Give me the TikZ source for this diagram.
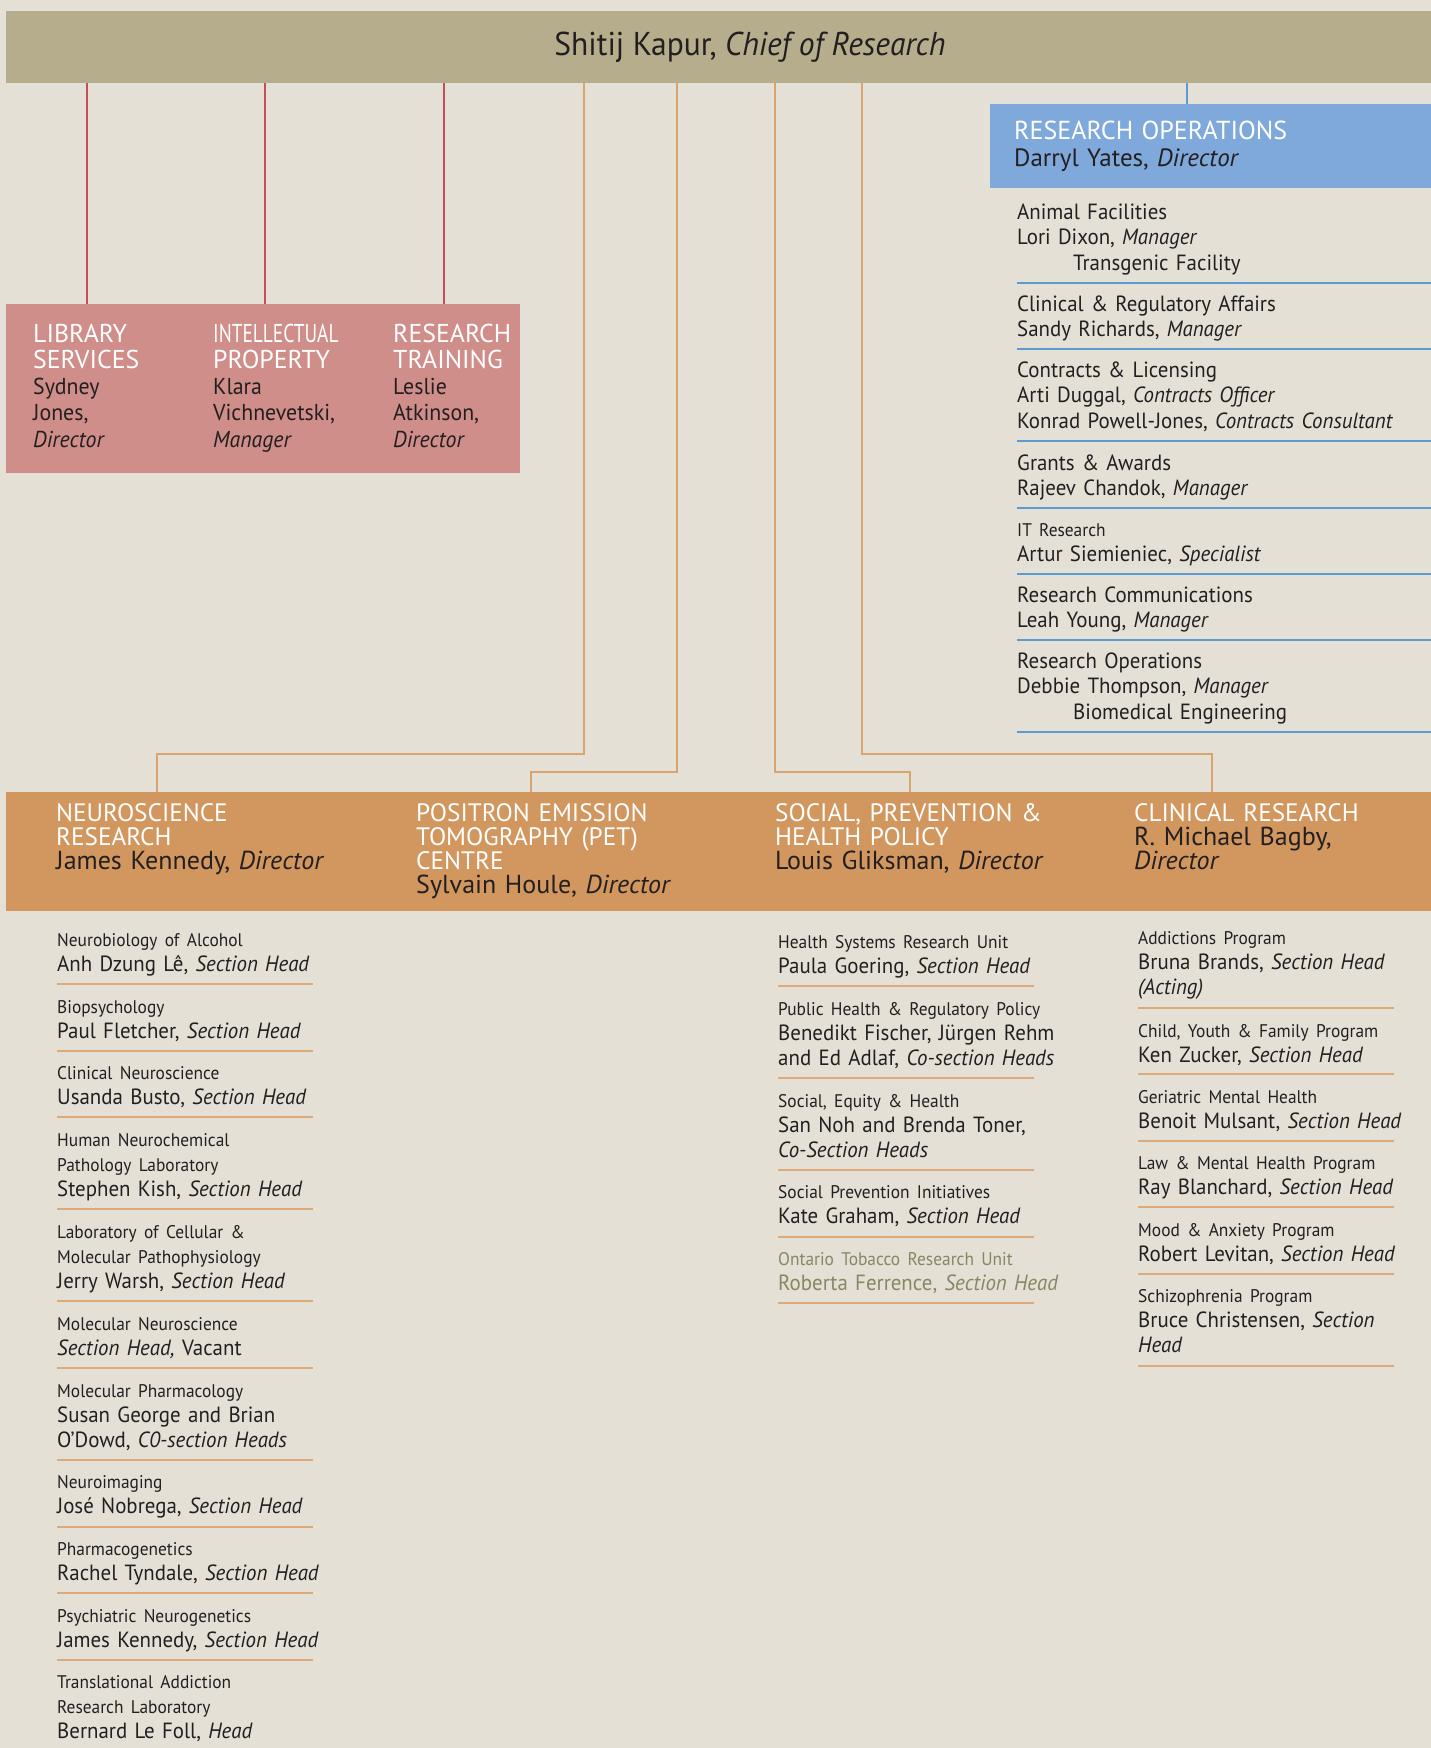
\documentclass[tikz,border=0pt]{standalone}
\usepackage{fontspec}
\setmainfont{PT Sans}[FakeStretch=0.95]
\newfontfamily\plainf{PT Sans}
\newfontfamily\titlefont{PT Sans}[FakeStretch=0.955]
\newfontfamily\narrowfont{PT Sans}[FakeStretch=0.75]
\definecolor{bg}{HTML}{E4E0D6}
\definecolor{tan}{HTML}{B6AD8D}
\definecolor{rose}{HTML}{CF8E8A}
\definecolor{roseln}{HTML}{C34D5C}
\definecolor{sky}{HTML}{80A9DB}
\definecolor{skyln}{HTML}{5B9BD0}
\definecolor{ochre}{HTML}{D1975F}
\definecolor{ochreln}{HTML}{D9A46E}
\definecolor{sepor}{HTML}{DDAA78}
\definecolor{olive}{HTML}{8A8563}
\definecolor{ink}{HTML}{231F20}
\newcommand\hd[1]{{\fontsize{18.3}{25}\selectfont #1}}
\newcommand\caps[1]{{\color{white}\fontsize{25.2}{24}\selectfont #1}}
\newcommand\rcaps[1]{{\plainf\color{white}\fontsize{25.8}{26.3}\selectfont #1}}
\begin{document}
\begin{tikzpicture}[x=1pt,y=-1pt,
  item/.style={anchor=base west, inner sep=0pt, align=left, text width=#1, text=ink,
    font=\fontsize{22}{25}\selectfont},
  item/.default=340,
  ritem/.style={item=410, font=\fontsize{22}{25.5}\selectfont},
  head/.style={anchor=base west, inner sep=0pt, align=left, text width=#1, text=ink,
    font=\plainf\fontsize{26}{24}\selectfont},
  head/.default=320,
  redtext/.style={anchor=base west, inner sep=0pt, align=left, text width=170, text=ink,
    font=\fontsize{23}{26.3}\selectfont},
  redln/.style={draw=roseln, line width=1.3pt},
  orln/.style={draw=ochreln, line width=1.5pt},
  bluln/.style={draw=skyln, line width=1.4pt},
  sepO/.style={draw=sepor, line width=1.6pt},
  sepB/.style={draw=skyln, line width=1.6pt},
  box/.style={anchor=north west, inner sep=0pt, outer sep=0pt}
]
\useasboundingbox (0,0) rectangle (1431,1748);
\fill[bg] (0,0) rectangle (1431,1748);

% chief bar
\node[fill=tan, minimum width=1488, minimum height=72, inner sep=0pt, outer sep=0pt,
  text=ink, font=\titlefont\fontsize{33}{36}\selectfont] (chief) at (750,47)
  {Shitij Kapur, \textit{Chief of Research}};

% red box
\node[box, fill=rose, minimum width=514, minimum height=169] (redbox) at (6,304) {};
\node[redtext] (lib) at (33,342) {\rcaps{LIBRARY}\\\rcaps{SERVICES}\\Sydney\\Jones,\\\textit{Director}};
\node[redtext] (ip) at (213,342) {\rcaps{\narrowfont INTELLECTUAL}\\\rcaps{PROPERTY}\\Klara\\Vichnevetski,\\\textit{Manager}};
\node[redtext] (rt) at (393,342) {\rcaps{RESEARCH}\\\rcaps{TRAINING}\\Leslie\\Atkinson,\\\textit{Director}};
\coordinate (libdrop) at (87,304);
\coordinate (ipdrop) at (265,304);
\coordinate (rtdrop) at (444,304);
\draw[redln] (chief.south -| libdrop) -- (libdrop);
\draw[redln] (chief.south -| ipdrop) -- (ipdrop);
\draw[redln] (chief.south -| rtdrop) -- (rtdrop);

% blue box
\node[box, fill=sky, minimum width=520, minimum height=84] (ops) at (990,104) {};
\node[anchor=base west, inner sep=0pt, align=left, text width=400, text=ink,
  font=\plainf\fontsize{25}{27}\selectfont] (opstxt) at (1014,139)
  {{\color{white}\fontsize{26}{27}\selectfont RESEARCH OPERATIONS}\\Darryl Yates, \textit{Director}};
\coordinate (opsdrop) at (1187,104);
\draw[bluln] (chief.south -| opsdrop) -- (opsdrop);

% right column
\node[ritem] (r1) at (1017,219) {Animal Facilities\\Lori Dixon, \textit{Manager}\\\hspace*{56pt}Transgenic Facility};
\draw[sepB] (1017,283) -- (1431,283);
\node[ritem] (r2) at (1017,311) {Clinical \& Regulatory Affairs\\Sandy Richards, \textit{Manager}};
\draw[sepB] (1017,349) -- (1431,349);
\node[ritem] (r3) at (1017,377) {Contracts \& Licensing\\Arti Duggal, \textit{Contracts Officer}\\Konrad Powell-Jones, \textit{Contracts Consultant}};
\draw[sepB] (1017,441) -- (1431,441);
\node[ritem] (r4) at (1017,470) {Grants \& Awards\\Rajeev Chandok, \textit{Manager}};
\draw[sepB] (1017,508) -- (1431,508);
\node[ritem] (r5) at (1017,536) {\hd{IT Research}\\Artur Siemieniec, \textit{Specialist}};
\draw[sepB] (1017,574) -- (1431,574);
\node[ritem] (r6) at (1017,602) {Research Communications\\Leah Young, \textit{Manager}};
\draw[sepB] (1017,640) -- (1431,640);
\node[ritem] (r7) at (1017,668) {Research Operations\\Debbie Thompson, \textit{Manager}\\\hspace*{56pt}Biomedical Engineering};
\draw[sepB] (1017,732) -- (1431,732);

% orange band
\node[box, fill=ochre, minimum width=1500, minimum height=119] (band) at (6,792) {};
\node[head] (ns) at (56,821) {\caps{NEUROSCIENCE}\\\caps{RESEARCH}\\James Kennedy, \textit{Director}};
\node[head] (pet) at (416,821) {\caps{POSITRON EMISSION}\\\caps{TOMOGRAPHY (PET)}\\\caps{CENTRE}\\Sylvain Houle, \textit{Director}};
\node[head] (sph) at (775,821) {\caps{SOCIAL, PREVENTION \&}\\\caps{HEALTH POLICY}\\Louis Gliksman, \textit{Director}};
\node[head] (cr) at (1134,821) {\caps{CLINICAL RESEARCH}\\R. Michael Bagby,\\\textit{Director}};

\coordinate (nsdrop) at (157,792);
\coordinate (petdrop) at (531,792);
\coordinate (sphdrop) at (910,792);
\coordinate (crdrop) at (1212,792);
\coordinate (nsbend) at (584,754);
\coordinate (petbend) at (677,772);
\coordinate (sphbend) at (775,772);
\coordinate (crbend) at (862,754);
\draw[orln] (chief.south -| nsbend) -- (nsbend) -| (nsdrop);
\draw[orln] (chief.south -| petbend) -- (petbend) -| (petdrop);
\draw[orln] (chief.south -| sphbend) -- (sphbend) -| (sphdrop);
\draw[orln] (chief.south -| crbend) -- (crbend) -| (crdrop);

% neuroscience column
\node[item] (a1) at (57,946) {\hd{Neurobiology of Alcohol}\\Anh Dzung Lê, \textit{Section Head}};
\draw[sepO] (57,984) -- (313,984);
\node[item] (a2) at (57,1013) {\hd{Biopsychology}\\Paul Fletcher, \textit{Section Head}};
\draw[sepO] (57,1051) -- (313,1051);
\node[item] (a3) at (57,1079) {\hd{Clinical Neuroscience}\\Usanda Busto, \textit{Section Head}};
\draw[sepO] (57,1117) -- (313,1117);
\node[item] (a4) at (57,1146) {\hd{Human Neurochemical}\\\hd{Pathology Laboratory}\\Stephen Kish, \textit{Section Head}};
\draw[sepO] (57,1209) -- (313,1209);
\node[item] (a5) at (57,1238) {\hd{Laboratory of Cellular \&}\\\hd{Molecular Pathophysiology}\\Jerry Warsh, \textit{Section Head}};
\draw[sepO] (57,1301) -- (313,1301);
\node[item] (a6) at (57,1330) {\hd{Molecular Neuroscience}\\\textit{Section Head,} Vacant};
\draw[sepO] (57,1368) -- (313,1368);
\node[item] (a7) at (57,1397) {\hd{Molecular Pharmacology}\\Susan George and Brian\\O’Dowd, \textit{C0-section Heads}};
\draw[sepO] (57,1460) -- (313,1460);
\node[item] (a8) at (57,1488) {\hd{Neuroimaging}\\José Nobrega, \textit{Section Head}};
\draw[sepO] (57,1527) -- (313,1527);
\node[item] (a9) at (57,1555) {\hd{Pharmacogenetics}\\Rachel Tyndale, \textit{Section Head}};
\draw[sepO] (57,1593) -- (313,1593);
\node[item] (a10) at (57,1622) {\hd{Psychiatric Neurogenetics}\\James Kennedy, \textit{Section Head}};
\draw[sepO] (57,1660) -- (313,1660);
\node[item] (a11) at (57,1688) {\hd{Translational Addiction}\\\hd{Research Laboratory}\\Bernard Le Foll, \textit{Head}};

% social column
\node[item] (s1) at (778,948) {\hd{Health Systems Research Unit}\\Paula Goering, \textit{Section Head}};
\draw[sepO] (778,986) -- (1034,986);
\node[item] (s2) at (778,1015) {\hd{Public Health \& Regulatory Policy}\\Benedikt Fischer, Jürgen Rehm\\and Ed Adlaf, \textit{Co-section Heads}};
\draw[sepO] (778,1078) -- (1034,1078);
\node[item] (s3) at (778,1107) {\hd{Social, Equity \& Health}\\San Noh and Brenda Toner,\\\textit{Co-Section Heads}};
\draw[sepO] (778,1170) -- (1034,1170);
\node[item] (s4) at (778,1198) {\hd{Social Prevention Initiatives}\\Kate Graham, \textit{Section Head}};
\draw[sepO] (778,1237) -- (1034,1237);
\node[item, text=olive] (s5) at (778,1265) {\hd{Ontario Tobacco Research Unit}\\Roberta Ferrence, \textit{Section Head}};
\draw[sepO] (778,1303) -- (1034,1303);

% clinical column
\node[item] (c1) at (1138,944) {\hd{Addictions Program}\\Bruna Brands, \textit{Section Head}\\\textit{(Acting)}};
\draw[sepO] (1138,1008) -- (1394,1008);
\node[item] (c2) at (1138,1037) {\hd{Child, Youth \& Family Program}\\Ken Zucker, \textit{Section Head}};
\draw[sepO] (1138,1074) -- (1394,1074);
\node[item] (c3) at (1138,1103) {\hd{Geriatric Mental Health}\\Benoit Mulsant, \textit{Section Head}};
\draw[sepO] (1138,1141) -- (1394,1141);
\node[item] (c4) at (1138,1169) {\hd{Law \& Mental Health Program}\\Ray Blanchard, \textit{Section Head}};
\draw[sepO] (1138,1207) -- (1394,1207);
\node[item] (c5) at (1138,1236) {\hd{Mood \& Anxiety Program}\\Robert Levitan, \textit{Section Head}};
\draw[sepO] (1138,1274) -- (1394,1274);
\node[item] (c6) at (1138,1302) {\hd{Schizophrenia Program}\\Bruce Christensen, \textit{Section}\\\textit{Head}};
\draw[sepO] (1138,1366) -- (1394,1366);
\end{tikzpicture}
\end{document}
